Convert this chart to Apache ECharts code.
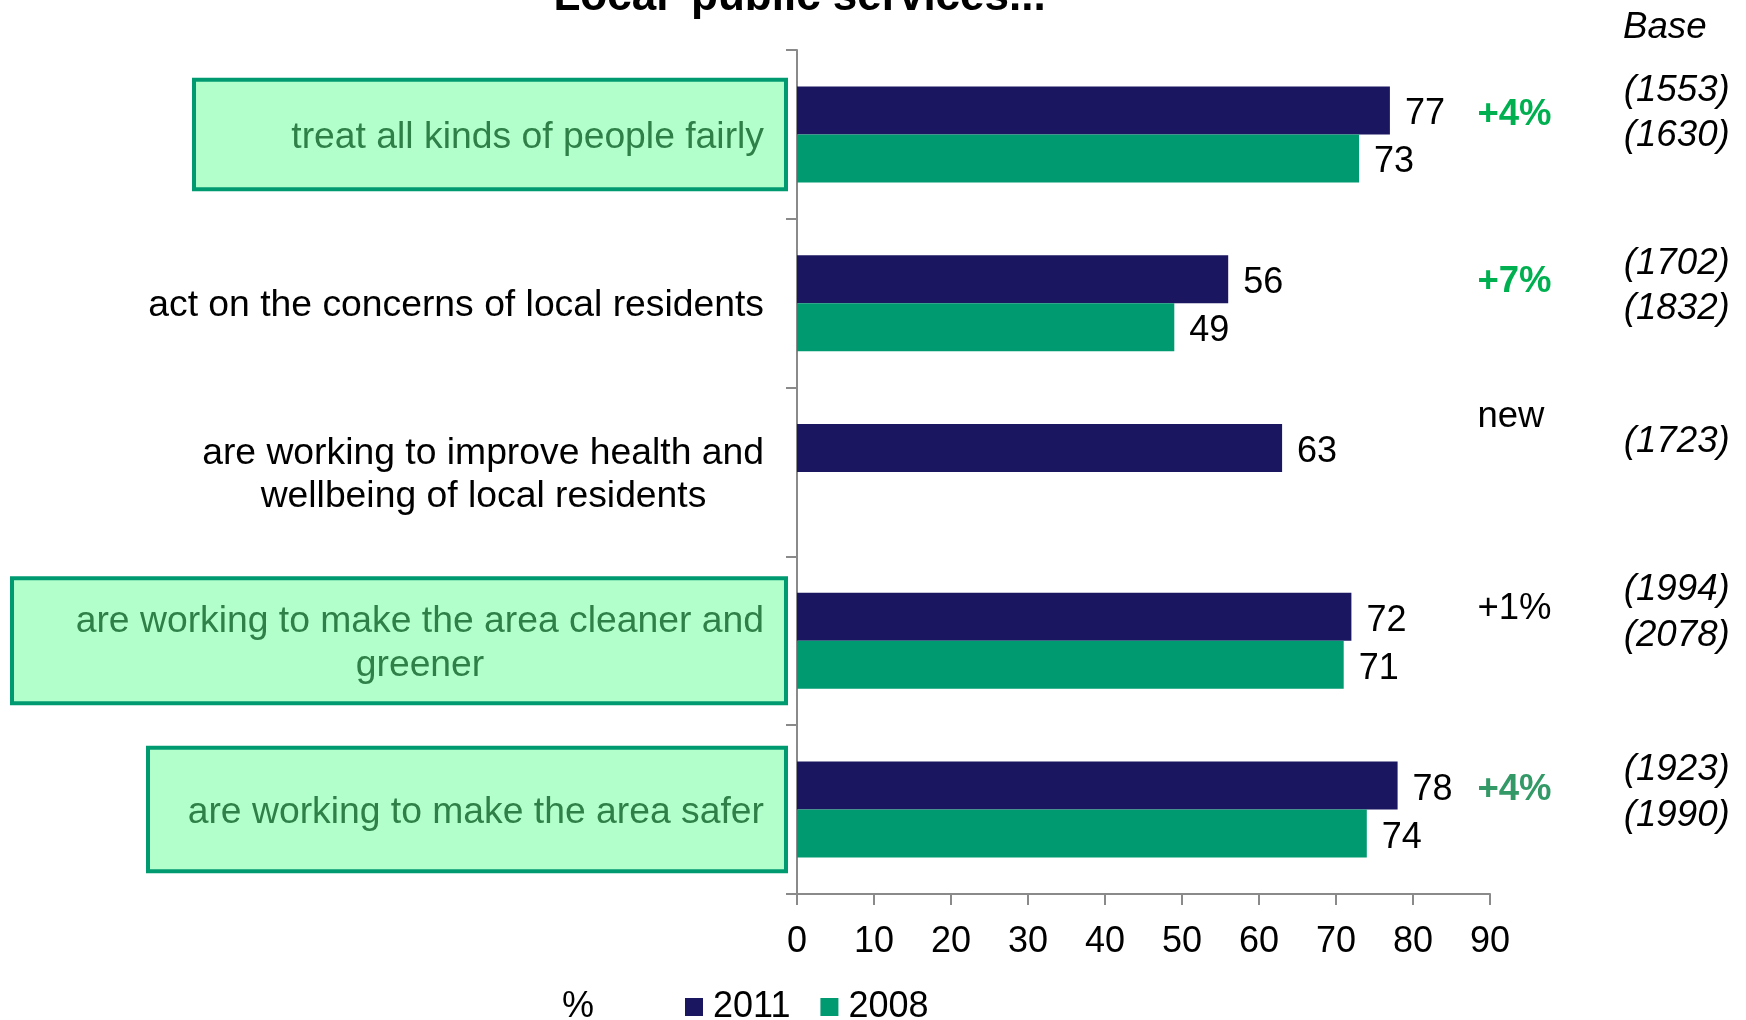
<!DOCTYPE html>
<html>
<head>
<meta charset="utf-8">
<script src="https://cdn.jsdelivr.net/npm/echarts@6/dist/echarts.min.js"></script>
<style>
  html, body { margin: 0; padding: 0; background: #ffffff; }
  #chart { width: 1746px; height: 1020px; }
</style>
</head>
<body>
<div id="chart"></div>
<script>
// Survey statements, top to bottom
const categories = [
  'treat all kinds of people fairly',
  'act on the concerns of local residents',
  'are working to improve health and\nwellbeing of local residents',
  'are working to make the area cleaner and\ngreener',
  'are working to make the area safer'
];
// Percentage agreeing
const values2011 = [77, 56, 63, 72, 78];
const values2008 = [73, 49, null, 71, 74];
// Change since 2008
const changeLabels = ['+4%', '+7%', 'new', '+1%', '+4%'];
// Base sizes
const base2011 = ['(1553)', '(1702)', '(1723)', '(1994)', '(1923)'];
const base2008 = ['(1630)', '(1832)', null, '(2078)', '(1990)'];
// Value axis ticks
const xMin = 0, xMax = 90, xInterval = 10;

const seriesNames = ['2011', '2008'];
const COLOR_2011 = '#1a1760';
const COLOR_2008 = '#009a70';
const FONT = "'Liberation Sans', Arial, Helvetica, sans-serif";
const FS = 36;
const FS_CAT = 37.3;

// Statements that are highlighted with a green box, and the box geometry
const boxStyles = [
  { backgroundColor: '#b3ffcc', borderColor: '#009a70', borderWidth: 4, width: 472, padding: [34, 20, 28, 96] },
  { padding: [6, 20, 0, 0] },
  { width: 561, padding: [6, 20, 0, 0] },
  { backgroundColor: '#b3ffcc', borderColor: '#009a70', borderWidth: 4, width: 688, padding: [20, 20, 14, 62] },
  { backgroundColor: '#b3ffcc', borderColor: '#009a70', borderWidth: 4, width: 576, padding: [41, 20, 35, 38] }
];
const boxed = [true, false, false, true, true];

// Annotation columns (in value-axis units) and their vertical nudges
const CHANGE_X = 88.3;
const BASE_X = 107.3;
const changeStyle = [
  { color: '#00b050', fontWeight: 'bold', dy: -19 },
  { color: '#00b050', fontWeight: 'bold', dy: -21 },
  { color: '#000000', fontWeight: 'normal', dy: -55 },
  { color: '#000000', fontWeight: 'normal', dy: -32 },
  { color: '#339966', fontWeight: 'bold', dy: -20 }
];
const baseDy = [-21, -17, -30, -28, -17];

const richLine = (color, align) => ({
  fontFamily: FONT, fontSize: FS_CAT, lineHeight: 43.5, color: color, align: align
});

const valueLabel = {
  show: true, position: 'right', distance: 15, offset: [0, 4],
  fontFamily: FONT, fontSize: FS, color: '#000'
};

const chart = echarts.init(document.getElementById('chart'), null, { renderer: 'canvas' });

const option = {
  backgroundColor: '#ffffff',
  animation: false,
  textStyle: { fontFamily: FONT, fontSize: FS, color: '#000' },
  title: {
    text: "'Local' public services...",
    left: 538,
    top: -29,
    textStyle: { fontFamily: FONT, fontSize: 44, fontWeight: 'bold', color: '#000' }
  },
  legend: {
    data: seriesNames,
    left: 685,
    top: 989,
    padding: 0,
    icon: 'rect',
    itemWidth: 18,
    itemHeight: 18,
    itemGap: 30,
    textStyle: { fontFamily: FONT, fontSize: FS, color: '#000', padding: [0, 0, 0, 5] }
  },
  graphic: [
    { type: 'text', x: 1623, y: 28, style: { text: 'Base', font: 'italic 36.7px ' + FONT, fill: '#000', align: 'left', verticalAlign: 'middle' } },
    { type: 'text', x: 578, y: 1007, style: { text: '%', font: '36px ' + FONT, fill: '#000', align: 'center', verticalAlign: 'middle' } }
  ],
  grid: { left: 797, right: 256, top: 50, bottom: 126, outerBoundsMode: 'none', containLabel: false },
  xAxis: {
    type: 'value',
    min: xMin,
    max: xMax,
    interval: xInterval,
    splitLine: { show: false },
    axisLine: { show: true, lineStyle: { color: '#8a8a8a', width: 2 } },
    axisTick: { show: true, length: 11, lineStyle: { color: '#8a8a8a', width: 2 } },
    axisLabel: { margin: 30, fontFamily: FONT, fontSize: FS, color: '#000' }
  },
  yAxis: {
    type: 'category',
    inverse: true,
    data: categories.map((c, i) => ({ value: c, textStyle: boxStyles[i] })),
    axisLine: { show: true, lineStyle: { color: '#8a8a8a', width: 2 } },
    axisTick: { show: true, length: 11, lineStyle: { color: '#8a8a8a', width: 2 } },
    axisLabel: {
      margin: 13,
      fontFamily: FONT,
      fontSize: FS_CAT,
      color: '#000',
      formatter: (value, idx) => {
        const g = boxed[idx] ? 'g' : '';
        return value.split('\n').map((line, k) => (k === 0 ? '{r' + g + '|' : '{c' + g + '|') + line + '}').join('\n');
      },
      rich: {
        r: richLine('#000000', 'right'),
        c: richLine('#000000', 'center'),
        rg: richLine('#2e8048', 'right'),
        cg: richLine('#2e8048', 'center')
      }
    }
  },
  series: [
    {
      name: seriesNames[0],
      type: 'bar',
      data: values2011,
      barWidth: 48,
      barGap: '0%',
      itemStyle: { color: COLOR_2011 },
      label: valueLabel
    },
    {
      name: seriesNames[1],
      type: 'bar',
      data: values2008,
      barWidth: 48,
      barGap: '0%',
      itemStyle: { color: COLOR_2008 },
      label: valueLabel
    },
    {
      name: 'change',
      type: 'scatter',
      silent: true,
      clip: false,
      symbolSize: 1,
      itemStyle: { color: 'transparent', opacity: 1 },
      data: changeLabels.map((t, i) => ({
        value: [CHANGE_X, i],
        label: {
          show: true, position: 'right', distance: 0, offset: [0, changeStyle[i].dy],
          formatter: t, fontFamily: FONT, fontSize: 36.5,
          color: changeStyle[i].color, fontWeight: changeStyle[i].fontWeight
        }
      }))
    },
    {
      name: 'base',
      type: 'scatter',
      silent: true,
      clip: false,
      symbolSize: 1,
      itemStyle: { color: 'transparent', opacity: 1 },
      data: base2011.map((b, i) => ({
        value: [BASE_X, i],
        label: {
          show: true, position: 'right', distance: 0, offset: [0, baseDy[i]],
          formatter: base2008[i] ? b + '\n' + base2008[i] : b,
          fontFamily: FONT, fontSize: 36.7, fontStyle: 'italic', lineHeight: 45.5, color: '#000'
        }
      }))
    }
  ]
};

chart.setOption(option);
</script>
</body>
</html>
